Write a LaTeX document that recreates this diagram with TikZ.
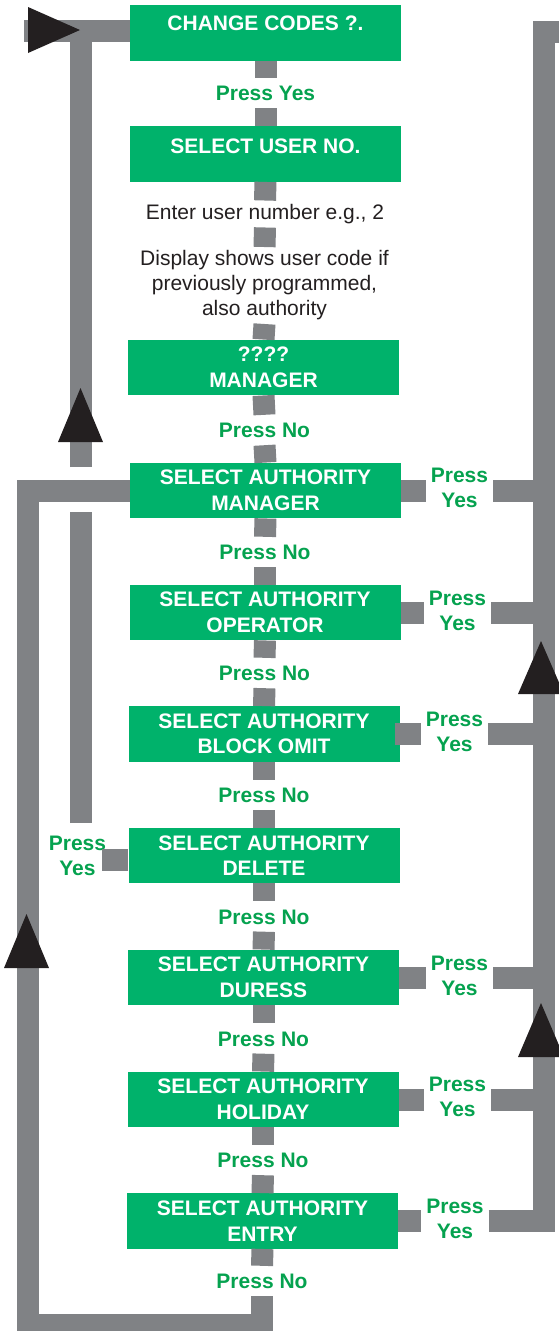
\documentclass[tikz,border=0pt]{standalone}
\usepackage{fontspec}
\setmainfont{Liberation Sans}
\definecolor{boxgreen}{HTML}{00B26B}
\definecolor{txtgreen}{HTML}{05A24F}
\definecolor{linegray}{HTML}{808285}
\definecolor{arrowblack}{HTML}{231F20}
\begin{document}
\begin{tikzpicture}[x=1pt,y=-1pt,
  box/.style={fill=boxgreen, text=white, font=\fontsize{21}{25.5}\selectfont\bfseries,
    align=center, minimum width=271pt, minimum height=55.5pt, inner sep=0pt},
  twobox/.style={box, execute at begin node={\rule{0pt}{20.5pt}}},
  onebox/.style={box, text height=15pt, text depth=21pt},
  lab/.style={text=txtgreen, font=\fontsize{21}{25.5}\selectfont\bfseries, inner sep=0pt,
    minimum height=30pt, text height=15pt, text depth=0pt},
  ylab/.style={text=txtgreen, font=\fontsize{21}{25}\selectfont\bfseries, align=center,
    inner sep=0pt, minimum width=67pt},
  note/.style={text=arrowblack, font=\fontsize{21}{25}\selectfont, align=center,
    inner xsep=0pt, inner ysep=3.5pt},
  conn/.style={draw=linegray, line width=22pt, line join=miter},
  head/.style={fill=arrowblack}]
\useasboundingbox (0,0) rectangle (558,1331);

% boxes
\node[onebox] (b1) at (265.5,33) {CHANGE CODES ?.};
\node[onebox, text depth=17pt] (b2) at (265.5,154) {SELECT USER NO.};
\node[twobox] (b3) at (263.5,367.5) {????\\MANAGER};
\node[twobox] (b4) at (265.5,490.5) {SELECT AUTHORITY\\MANAGER};
\node[twobox] (b5) at (265,612.5) {SELECT AUTHORITY\\OPERATOR};
\node[twobox] (b6) at (264,734) {SELECT AUTHORITY\\BLOCK OMIT};
\node[twobox] (b7) at (264,855.5) {SELECT AUTHORITY\\DELETE};
\node[twobox] (b8) at (263.5,977.5) {SELECT AUTHORITY\\DURESS};
\node[twobox] (b9) at (263,1099.5) {SELECT AUTHORITY\\HOLIDAY};
\node[twobox] (b10) at (262.5,1221) {SELECT AUTHORITY\\ENTRY};

% labels in the main column
\node[lab] (l1) at (265.5,93) {Press Yes};
\node[note] (t1) at (265,214) {Enter user number e.g., 2};
\node[note] (t2) at (264.5,285.5) {Display shows user code if\\previously programmed,\\also authority};
\node[lab] (l3) at (264.5,430) {Press No};
\node[lab] (l4) at (265,552) {Press No};
\node[lab] (l5) at (264.5,673) {Press No};
\node[lab] (l6) at (264,795) {Press No};
\node[lab] (l7) at (264,916.5) {Press No};
\node[lab] (l8) at (263.5,1038.5) {Press No};
\node[lab] (l9) at (263,1160) {Press No};
\node[lab] (l10) at (262,1281) {Press No};

% side labels
\node[ylab] (ry4) at (459.5,488) {Press\\Yes};
\node[ylab] (ry5) at (457.5,610.5) {Press\\Yes};
\node[ylab] (ry6) at (454.5,731.5) {Press\\Yes};
\node[ylab] (ry8) at (459.5,975.5) {Press\\Yes};
\node[ylab] (ry9) at (457.5,1097) {Press\\Yes};
\node[ylab] (ry10) at (455,1219) {Press\\Yes};
\node[ylab, minimum width=57pt] (lyd) at (77.5,855.5) {Press\\Yes};

% coordinates
\coordinate (rv) at (544,0);
\coordinate (rt) at (544,32);
\coordinate (rtr) at (585,32);
\coordinate (d1) at (102,860);
\coordinate (a1) at (81,823);
\coordinate (a2) at (81,512);
\coordinate (a3) at (81,467);
\coordinate (a4) at (81,31);
\coordinate (a5) at (24,31);
\coordinate (lb) at (28,1325);

% main column connectors
\draw[conn] (b1.south) -- (l1.north);
\draw[conn] (l1.south) -- (b2.north);
\draw[conn] (b2.south) -- (t1.north);
\draw[conn] (t1.south) -- (t2.north);
\draw[conn] (t2.south) -- (b3.north);
\draw[conn] (b3.south) -- (l3.north);
\draw[conn] (l3.south) -- (b4.north);
\draw[conn] (b4.south) -- (l4.north);
\draw[conn] (l4.south) -- (b5.north);
\draw[conn] (b5.south) -- (l5.north);
\draw[conn] (l5.south) -- (b6.north);
\draw[conn] (b6.south) -- (l6.north);
\draw[conn] (l6.south) -- (b7.north);
\draw[conn] (b7.south) -- (l7.north);
\draw[conn] (l7.south) -- (b8.north);
\draw[conn] (b8.south) -- (l8.north);
\draw[conn] (l8.south) -- (b9.north);
\draw[conn] (b9.south) -- (l9.north);
\draw[conn] (l9.south) -- (b10.north);
\draw[conn] (b10.south) -- (l10.north);

% big left loop: ENTRY -> MANAGER
\draw[conn] (l10.south) |- (lb) |- (b4.west);

% right side loops
\draw[conn] (b4.east) -- (ry4.west |- b4.east);
\draw[conn] (ry4.east |- b4.east) -- (rv |- b4.east);
\draw[conn] (b5.east) -- (ry5.west |- b5.east);
\draw[conn] (ry5.east |- b5.east) -- (rv |- b5.east);
\draw[conn] ([xshift=-5pt]b6.east) -- (ry6.west |- b6.east);
\draw[conn] (ry6.east |- b6.east) -- (rv |- b6.east);
\draw[conn] (b8.east) -- (ry8.west |- b8.east);
\draw[conn] (ry8.east |- b8.east) -- (rv |- b8.east);
\draw[conn] (b9.east) -- (ry9.west |- b9.east);
\draw[conn] (ry9.east |- b9.east) -- (rv |- b9.east);
\draw[conn] (b10.east) -- (ry10.west |- b10.east);
\draw[conn] (ry10.east |- b10.east) -| (rt) -- (rtr);

% left loop: DELETE -> CHANGE CODES
\draw[conn] ([yshift=-4.5pt]b7.west) -- (d1);
\draw[conn] (a1) -- (a2);
\draw[conn] (a3) -- (a4);
\draw[conn] (a5) -- (b1.west |- a5);

% arrowheads
\fill[head] (28,7) -- (80,30) -- (28,53) -- cycle;
\fill[head] (58,442) -- (80.5,388) -- (103,442) -- cycle;
\fill[head] (4,968) -- (26.5,914) -- (49,968) -- cycle;
\fill[head] (518,694) -- (541,641) -- (564,694) -- cycle;
\fill[head] (518,1057) -- (541,1003) -- (564,1057) -- cycle;
\end{tikzpicture}
\end{document}
